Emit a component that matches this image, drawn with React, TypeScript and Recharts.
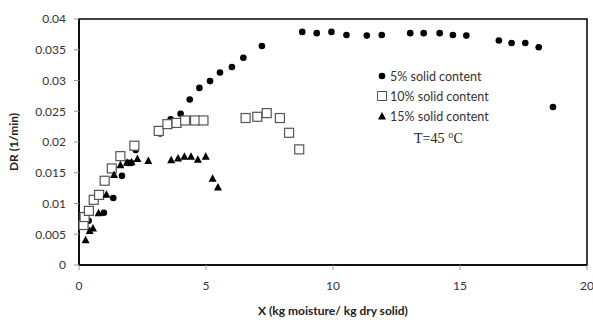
import React from "react";
import {
  ScatterChart,
  Scatter,
  XAxis,
  YAxis,
  ReferenceArea,
  Legend,
} from "recharts";

// 5% solid content
const x5 = [0.38, 0.98, 1.35, 1.69, 1.93, 2.05, 2.23, 3.2, 3.61, 4.0, 4.36, 4.74, 5.16, 5.55, 6.02, 6.47, 7.2, 8.79, 9.36, 9.94, 10.53, 11.33, 11.92, 13.04, 13.57, 14.2, 14.72, 15.25, 16.53, 17.03, 17.57, 18.1, 18.66];
const y5 = [0.0072, 0.0085, 0.0109, 0.0145, 0.0166, 0.0166, 0.0187, 0.0214, 0.0237, 0.0246, 0.0269, 0.0288, 0.0299, 0.0313, 0.0322, 0.0337, 0.0356, 0.0379, 0.0377, 0.0379, 0.0374, 0.0373, 0.0374, 0.0377, 0.0377, 0.0377, 0.0374, 0.0373, 0.0365, 0.0361, 0.0361, 0.0354, 0.0257];

// 10% solid content
const x10 = [0.18, 0.22, 0.39, 0.58, 0.79, 1.01, 1.29, 1.63, 2.18, 3.14, 3.48, 3.84, 4.18, 4.57, 4.9, 6.56, 7.02, 7.39, 7.91, 8.27, 8.67];
const y10 = [0.0065, 0.0078, 0.0088, 0.0106, 0.0114, 0.0137, 0.0157, 0.0177, 0.0194, 0.0218, 0.0229, 0.0231, 0.0235, 0.0235, 0.0235, 0.0239, 0.0241, 0.0247, 0.0239, 0.0215, 0.0188];

// 15% solid content
const x15 = [0.26, 0.42, 0.55, 0.77, 1.08, 1.38, 1.63, 1.89, 2.07, 2.3, 2.73, 3.63, 3.9, 4.15, 4.41, 4.68, 4.99, 5.26, 5.47];
const y15 = [0.0041, 0.0056, 0.006, 0.0085, 0.0115, 0.0147, 0.0163, 0.0167, 0.0168, 0.0173, 0.017, 0.0171, 0.0174, 0.0177, 0.0177, 0.0172, 0.0177, 0.0141, 0.0127];

const xTicks = [0, 5, 10, 15, 20];
const yTicks = [0, 0.005, 0.01, 0.015, 0.02, 0.025, 0.03, 0.035, 0.04];

const zip = (xs: number[], ys: number[]) => xs.map((x, i) => ({ x, y: ys[i] }));

const font = "Lato, 'Open Sans', sans-serif";

const Dot = (p: any) => <circle cx={p.cx} cy={p.cy} r={3.3} fill="#000" />;
const Square = (p: any) => (
  <rect x={p.cx - 4.5} y={p.cy - 4.5} width={9} height={9} fill="#fff" stroke="#555" strokeWidth={1.2} />
);
const Tri = (p: any) => (
  <polygon points={`${p.cx},${p.cy - 4} ${p.cx - 4},${p.cy + 3.5} ${p.cx + 4},${p.cy + 3.5}`} fill="#000" />
);

const legendRows = [
  { label: "5% solid content", icon: <circle cx={5} cy={5} r={3.3} fill="#000" /> },
  { label: "10% solid content", icon: <rect x={0.5} y={0.5} width={9} height={9} fill="#fff" stroke="#555" /> },
  { label: "15% solid content", icon: <polygon points="5,1 1,8.5 9,8.5" fill="#000" /> },
];

const LegendBox = () => (
  <div style={{ fontFamily: font, fontSize: 12.5, color: "#333" }}>
    {legendRows.map((r) => (
      <div key={r.label} style={{ display: "flex", alignItems: "center", height: 20 }}>
        <svg width={10} height={10} style={{ marginRight: 3 }}>
          {r.icon}
        </svg>
        <span>{r.label}</span>
      </div>
    ))}
    <div style={{ fontFamily: "'Liberation Serif', serif", fontSize: 14, color: "#222", marginLeft: 37, marginTop: 5 }}>
      T=45 °C
    </div>
  </div>
);

export default function App() {
  return (
    <div style={{ position: "absolute", left: 0, top: 0, background: "#fff" }}>
      <ScatterChart width={593} height={320} margin={{ top: 19, right: 6, bottom: 0, left: 0 }}>
        <XAxis
          type="number"
          dataKey="x"
          domain={[0, 20]}
          ticks={xTicks}
          height={55}
          tickSize={5}
          tickMargin={11}
          axisLine={{ stroke: "#000", strokeWidth: 1.5 }}
          tickLine={{ stroke: "#999" }}
          tick={{ fontSize: 12, fontFamily: font, fill: "#333" }}
          label={{
            value: "X (kg moisture/ kg dry solid)",
            position: "insideBottom",
            offset: 5,
            style: { fontSize: 12, fontFamily: font, fontWeight: "bold", fill: "#222" },
          }}
        />
        <YAxis
          type="number"
          dataKey="y"
          domain={[0, 0.04]}
          ticks={yTicks}
          width={79}
          tickSize={5}
          tickMargin={8}
          axisLine={{ stroke: "#000", strokeWidth: 1.5 }}
          tickLine={{ stroke: "#999" }}
          tick={{ fontSize: 12, fontFamily: font, fill: "#333" }}
          label={{
            value: "DR (1/min)",
            angle: -90,
            position: "insideLeft",
            offset: 14,
            style: { textAnchor: "middle", fontSize: 12, fontFamily: font, fontWeight: "bold", fill: "#222" },
          }}
        />
        <ReferenceArea x1={0} x2={20} y1={0} y2={0.04} fill="none" stroke="#000" strokeWidth={1.5} />
        <Scatter data={zip(x5, y5)} shape={Dot} isAnimationActive={false} />
        <Scatter data={zip(x10, y10)} shape={Square} isAnimationActive={false} />
        <Scatter data={zip(x15, y15)} shape={Tri} isAnimationActive={false} />
        <Legend
          layout="vertical"
          align="center"
          verticalAlign="middle"
          content={() => <LegendBox />}
          wrapperStyle={{ left: 377, top: 66, width: 160 }}
        />
      </ScatterChart>
    </div>
  );
}
